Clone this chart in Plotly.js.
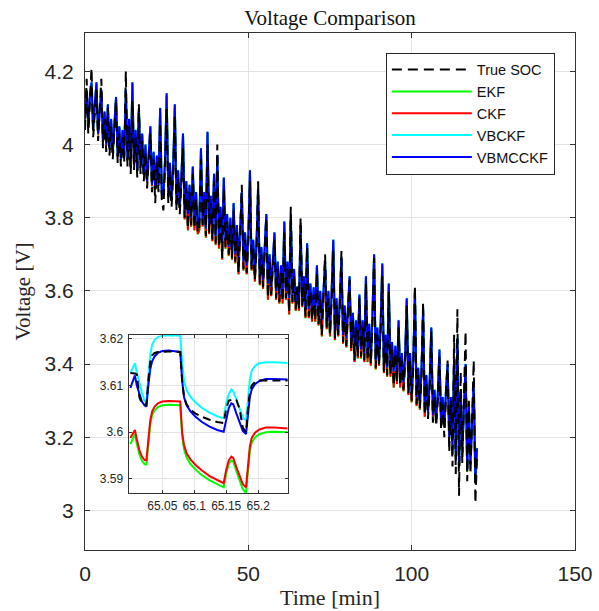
<!DOCTYPE html>
<html>
<head>
<meta charset="utf-8">
<script src="https://cdn.plot.ly/plotly-3.0.1.min.js"></script>
<style>html,body{margin:0;padding:0;background:#fff;}#chart{width:599px;height:611px;}</style>
</head>
<body>
<div id="chart"></div>
<script>
// Main plot: samples every 0.5 min from t = 0 to 120 min
const tStart = 0;
const tStep = 0.5;

const trueSOC = [
4.04,4.18,4.03,4.11,4.21,4.02,4.09,4.15,4.01,4.08,
4.18,3.99,4.07,3.98,4.10,3.97,4.05,3.96,4.03,4.12,
3.95,4.03,3.94,4.02,3.95,4.20,3.94,4.05,3.92,4.12,
3.93,4.02,3.91,4.11,3.92,4.01,3.90,3.98,3.88,3.96,
4.03,3.87,3.96,3.84,3.95,3.87,4.06,3.85,3.82,3.94,
4.10,3.84,3.93,3.83,3.92,4.08,3.82,3.91,3.81,3.89,
3.99,3.80,3.88,3.77,3.87,3.78,3.92,3.77,3.85,3.76,
3.77,3.96,3.78,3.85,3.75,4.00,3.76,3.84,3.74,3.90,
3.73,4.00,3.72,3.81,3.69,3.88,3.72,3.79,3.70,3.78,
3.69,3.82,3.68,3.76,3.65,3.75,3.89,3.66,3.74,3.65,
3.73,3.90,3.66,3.72,3.63,3.71,3.90,3.62,3.70,3.61,
3.69,3.80,3.58,3.68,3.59,3.67,3.74,3.58,3.66,3.57,
3.65,3.57,3.76,3.58,3.66,3.54,3.83,3.57,3.64,3.55,
3.612,3.55,3.80,3.56,3.62,3.53,3.72,3.53,3.60,3.52,
3.59,3.52,3.65,3.51,3.58,3.48,3.57,3.70,3.50,3.58,
3.48,3.57,3.71,3.47,3.56,3.48,3.55,3.71,3.46,3.54,
3.45,3.53,3.63,3.44,3.52,3.41,3.50,3.42,3.58,3.42,
3.50,3.41,3.62,3.41,3.49,3.40,3.51,3.69,3.39,3.48,
3.40,3.49,3.64,3.38,3.46,3.37,3.60,3.37,3.44,3.34,
3.43,3.35,3.50,3.34,3.41,3.33,3.40,3.56,3.32,3.41,
3.30,3.39,3.615,3.29,3.37,3.28,3.36,3.57,3.26,3.35,
3.25,3.33,3.49,3.24,3.31,3.23,3.30,3.42,3.22,3.29,
3.20,3.32,3.41,3.16,3.30,3.12,3.48,3.10,3.55,3.04,
3.38,3.13,3.28,3.49,3.08,3.30,3.10,3.25,3.41,3.02,
3.15];

const ekf = [
4.066,4.146,4.046,4.126,4.166,4.036,4.106,4.166,4.026,4.096,
4.146,4.006,4.086,3.996,4.106,3.986,4.066,3.976,4.046,4.126,
3.966,4.046,3.956,4.036,3.966,4.146,3.956,4.066,3.936,4.166,
3.946,4.036,3.926,4.096,3.936,4.026,3.916,3.996,3.896,3.976,
4.046,3.886,3.976,3.876,3.966,3.886,4.096,3.866,3.856,3.956,
4.136,3.856,3.946,3.846,3.936,4.106,3.836,3.926,3.826,3.906,
4.026,3.795,3.896,3.765,3.886,3.775,3.936,3.765,3.866,3.755,
3.765,3.986,3.775,3.866,3.745,4.031,3.755,3.856,3.735,3.916,
3.725,3.966,3.715,3.826,3.685,3.906,3.715,3.806,3.695,3.796,
3.685,3.836,3.675,3.776,3.645,3.766,3.866,3.655,3.756,3.645,
3.746,3.926,3.655,3.736,3.625,3.726,3.876,3.615,3.716,3.605,
3.706,3.806,3.575,3.696,3.585,3.686,3.756,3.575,3.676,3.565,
3.666,3.565,3.786,3.575,3.676,3.535,3.806,3.565,3.656,3.545,
3.5975,3.545,3.776,3.555,3.636,3.525,3.726,3.525,3.616,3.515,
3.606,3.515,3.666,3.505,3.596,3.475,3.586,3.676,3.495,3.596,
3.475,3.586,3.736,3.465,3.576,3.475,3.566,3.686,3.455,3.556,
3.445,3.546,3.636,3.435,3.536,3.405,3.516,3.415,3.586,3.415,
3.516,3.405,3.636,3.405,3.506,3.395,3.526,3.696,3.385,3.496,
3.395,3.506,3.671,3.375,3.476,3.365,3.616,3.365,3.456,3.335,
3.446,3.345,3.516,3.335,3.426,3.325,3.416,3.576,3.315,3.426,
3.295,3.406,3.596,3.285,3.386,3.275,3.376,3.546,3.255,3.366,
3.266,3.346,3.496,3.256,3.326,3.246,3.316,3.436,3.236,3.306,
3.226,3.326,3.396,3.196,3.306,3.166,3.416,3.146,3.466,3.116,
3.326,3.156,3.276,3.396,3.106,3.286,3.126,3.236,3.346,3.076,
3.166];

const ckf = [
4.067,4.147,4.047,4.127,4.167,4.037,4.107,4.167,4.027,4.097,
4.147,4.007,4.087,3.997,4.107,3.987,4.067,3.977,4.047,4.127,
3.967,4.047,3.957,4.037,3.967,4.147,3.957,4.067,3.937,4.167,
3.947,4.037,3.927,4.097,3.937,4.027,3.917,3.997,3.897,3.977,
4.047,3.887,3.977,3.877,3.967,3.887,4.097,3.867,3.857,3.957,
4.137,3.857,3.947,3.847,3.937,4.107,3.837,3.927,3.827,3.907,
4.027,3.796,3.897,3.766,3.887,3.776,3.937,3.766,3.867,3.756,
3.766,3.987,3.776,3.867,3.746,4.032,3.756,3.857,3.736,3.917,
3.726,3.967,3.716,3.827,3.686,3.907,3.716,3.807,3.696,3.797,
3.686,3.837,3.676,3.777,3.646,3.767,3.867,3.656,3.757,3.646,
3.747,3.927,3.656,3.737,3.626,3.727,3.877,3.616,3.717,3.606,
3.707,3.807,3.576,3.697,3.586,3.687,3.757,3.576,3.677,3.566,
3.667,3.566,3.787,3.576,3.677,3.536,3.807,3.566,3.657,3.546,
3.599,3.546,3.777,3.556,3.637,3.526,3.727,3.526,3.617,3.516,
3.607,3.516,3.667,3.506,3.597,3.476,3.587,3.677,3.496,3.597,
3.476,3.587,3.737,3.466,3.577,3.476,3.567,3.687,3.456,3.557,
3.446,3.547,3.637,3.436,3.537,3.406,3.517,3.416,3.587,3.416,
3.517,3.406,3.637,3.406,3.507,3.396,3.527,3.697,3.386,3.497,
3.396,3.507,3.672,3.376,3.477,3.366,3.617,3.366,3.457,3.336,
3.447,3.346,3.517,3.336,3.427,3.326,3.417,3.577,3.316,3.427,
3.296,3.407,3.597,3.286,3.387,3.276,3.377,3.547,3.256,3.367,
3.267,3.347,3.497,3.257,3.327,3.247,3.317,3.437,3.237,3.307,
3.227,3.327,3.397,3.197,3.307,3.167,3.417,3.147,3.467,3.117,
3.327,3.157,3.277,3.397,3.107,3.287,3.127,3.237,3.347,3.077,
3.167];

const vbckf = [
4.071,4.151,4.051,4.131,4.171,4.041,4.111,4.171,4.031,4.101,
4.151,4.011,4.091,4.001,4.111,3.991,4.071,3.981,4.051,4.131,
3.971,4.051,3.961,4.041,3.971,4.151,3.961,4.071,3.941,4.171,
3.951,4.041,3.931,4.101,3.941,4.031,3.921,4.001,3.901,3.981,
4.051,3.891,3.981,3.881,3.971,3.891,4.101,3.871,3.861,3.961,
4.141,3.861,3.951,3.851,3.941,4.111,3.841,3.931,3.831,3.911,
4.031,3.821,3.901,3.811,3.891,3.801,3.941,3.791,3.871,3.781,
3.791,3.991,3.791,3.871,3.771,4.036,3.781,3.861,3.761,3.921,
3.751,3.971,3.741,3.831,3.731,3.911,3.741,3.811,3.721,3.801,
3.711,3.841,3.701,3.781,3.691,3.771,3.871,3.681,3.761,3.671,
3.751,3.931,3.671,3.741,3.651,3.731,3.881,3.641,3.721,3.631,
3.711,3.811,3.621,3.701,3.611,3.691,3.761,3.601,3.681,3.591,
3.671,3.591,3.791,3.601,3.681,3.581,3.811,3.591,3.661,3.571,
3.6127,3.571,3.781,3.571,3.641,3.551,3.731,3.551,3.621,3.541,
3.611,3.541,3.671,3.531,3.601,3.521,3.591,3.681,3.521,3.601,
3.501,3.591,3.741,3.491,3.581,3.491,3.571,3.691,3.481,3.561,
3.471,3.551,3.641,3.461,3.541,3.451,3.521,3.441,3.591,3.441,
3.521,3.431,3.641,3.431,3.511,3.421,3.531,3.701,3.411,3.501,
3.411,3.511,3.676,3.401,3.481,3.391,3.621,3.391,3.461,3.381,
3.451,3.371,3.521,3.361,3.431,3.351,3.421,3.581,3.341,3.431,
3.321,3.411,3.601,3.311,3.391,3.301,3.381,3.551,3.281,3.371,
3.271,3.351,3.501,3.261,3.331,3.251,3.321,3.441,3.241,3.311,
3.231,3.331,3.401,3.201,3.311,3.171,3.421,3.151,3.471,3.121,
3.331,3.161,3.281,3.401,3.111,3.291,3.131,3.241,3.351,3.081,
3.171];

const vbmcckf = [
4.07,4.15,4.05,4.13,4.17,4.04,4.11,4.17,4.03,4.10,
4.15,4.01,4.09,4.00,4.11,3.99,4.07,3.98,4.05,4.13,
3.97,4.05,3.96,4.04,3.97,4.15,3.96,4.07,3.94,4.17,
3.95,4.04,3.93,4.10,3.94,4.03,3.92,4.00,3.90,3.98,
4.05,3.89,3.98,3.88,3.97,3.89,4.10,3.87,3.86,3.96,
4.14,3.86,3.95,3.85,3.94,4.11,3.84,3.93,3.83,3.91,
4.03,3.82,3.90,3.81,3.89,3.80,3.94,3.79,3.87,3.78,
3.79,3.99,3.79,3.87,3.77,4.035,3.78,3.86,3.76,3.92,
3.75,3.97,3.74,3.83,3.73,3.91,3.74,3.81,3.72,3.80,
3.71,3.84,3.70,3.78,3.69,3.77,3.87,3.68,3.76,3.67,
3.75,3.93,3.67,3.74,3.65,3.73,3.88,3.64,3.72,3.63,
3.71,3.81,3.62,3.70,3.61,3.69,3.76,3.60,3.68,3.59,
3.67,3.59,3.79,3.60,3.68,3.58,3.81,3.59,3.66,3.57,
3.611,3.57,3.78,3.57,3.64,3.55,3.73,3.55,3.62,3.54,
3.61,3.54,3.67,3.53,3.60,3.52,3.59,3.68,3.52,3.60,
3.50,3.59,3.74,3.49,3.58,3.49,3.57,3.69,3.48,3.56,
3.47,3.55,3.64,3.46,3.54,3.45,3.52,3.44,3.59,3.44,
3.52,3.43,3.64,3.43,3.51,3.42,3.53,3.70,3.41,3.50,
3.41,3.51,3.675,3.40,3.48,3.39,3.62,3.39,3.46,3.38,
3.45,3.37,3.52,3.36,3.43,3.35,3.42,3.58,3.34,3.43,
3.32,3.41,3.60,3.31,3.39,3.30,3.38,3.55,3.28,3.37,
3.27,3.35,3.50,3.26,3.33,3.25,3.32,3.44,3.24,3.31,
3.23,3.33,3.40,3.20,3.31,3.17,3.42,3.15,3.47,3.12,
3.33,3.16,3.28,3.40,3.11,3.29,3.13,3.24,3.35,3.08,
3.17];

// Inset (zoom on t = 65.00 .. 65.25 min)
const tInset = [65.000,65.004,65.007,65.010,65.014,65.018,65.022,65.025,65.028,65.031,
65.034,65.038,65.043,65.050,65.060,65.070,65.078,65.081,65.084,65.088,
65.094,65.102,65.112,65.124,65.136,65.146,65.150,65.154,65.158,65.161,
65.166,65.171,65.176,65.181,65.184,65.187,65.190,65.195,65.202,65.212,
65.225,65.240,65.250];

const insetTrue = [3.6127,3.6127,3.6126,3.6124,3.6075,3.6062,3.6059,3.6058,3.6110,3.6150,
3.6165,3.6170,3.6172,3.6173,3.6173,3.6173,3.6172,3.6110,3.6075,3.6060,
3.6048,3.6040,3.6033,3.6027,3.6022,3.6020,3.6050,3.6068,3.6070,3.6070,
3.6069,3.6050,3.6010,3.6000,3.6050,3.6085,3.6100,3.6108,3.6111,3.6111,
3.6111,3.6111,3.6111];

const insetEKF = [3.5975,3.5988,3.5996,3.5975,3.5953,3.5939,3.5932,3.5931,3.5982,3.6017,
3.6037,3.6047,3.6054,3.6058,3.6059,3.6059,3.6058,3.5992,3.5963,3.5946,
3.5932,3.5920,3.5908,3.5897,3.5888,3.5882,3.5912,3.5932,3.5940,3.5937,
3.5916,3.5895,3.5878,3.5870,3.5925,3.5960,3.5978,3.5989,3.5996,3.6000,
3.6001,3.6000,3.6000];

const insetCKF = [3.5988,3.5998,3.6005,3.5985,3.5962,3.5948,3.5941,3.5940,3.5990,3.6025,
3.6045,3.6055,3.6062,3.6066,3.6067,3.6067,3.6066,3.6000,3.5972,3.5955,
3.5942,3.5930,3.5918,3.5906,3.5897,3.5891,3.5920,3.5940,3.5948,3.5945,
3.5925,3.5905,3.5889,3.5882,3.5935,3.5970,3.5988,3.5999,3.6006,3.6010,
3.6010,3.6009,3.6008];

const insetVBCKF = [3.6127,3.6138,3.6148,3.6128,3.6105,3.6085,3.6068,3.6063,3.6120,3.6165,
3.6188,3.6198,3.6204,3.6207,3.6208,3.6208,3.6207,3.6150,3.6110,3.6090,
3.6076,3.6064,3.6052,3.6042,3.6034,3.6030,3.6062,3.6082,3.6092,3.6088,
3.6068,3.6048,3.6032,3.6025,3.6075,3.6112,3.6132,3.6142,3.6148,3.6150,
3.6150,3.6149,3.6148];

const insetVBMCCKF = [3.6095,3.6110,3.6122,3.6100,3.6080,3.6066,3.6058,3.6055,3.6100,3.6135,
3.6152,3.6163,3.6170,3.6174,3.6175,3.6174,3.6172,3.6110,3.6075,3.6058,
3.6045,3.6033,3.6022,3.6012,3.6005,3.6001,3.6030,3.6052,3.6062,3.6060,
3.6040,3.6020,3.6003,3.5996,3.6040,3.6075,3.6092,3.6103,3.6110,3.6114,
3.6114,3.6113,3.6113];

const seriesNames = ['True SOC','EKF','CKF','VBCKF','VBMCCKF'];
const xTicks = [0,50,100,150];
const insetXTicks = [65.05,65.1,65.15,65.2];
const insetYTicks = [3.59,3.6,3.61,3.62];

const colors = {'True SOC':'#000000','EKF':'#00ff00','CKF':'#ff0000','VBCKF':'#00ffff','VBMCCKF':'#0000ff'};
const mainData = {'True SOC':trueSOC,'EKF':ekf,'CKF':ckf,'VBCKF':vbckf,'VBMCCKF':vbmcckf};
const insetData = {'True SOC':insetTrue,'EKF':insetEKF,'CKF':insetCKF,'VBCKF':insetVBCKF,'VBMCCKF':insetVBMCCKF};
const drawOrder = ['EKF','CKF','VBCKF','VBMCCKF','True SOC'];

const traces = [];
drawOrder.forEach(name => {
  const isTrue = name === 'True SOC';
  traces.push({
    type:'scatter', mode:'lines', name:name,
    x0:tStart, dx:tStep, y:mainData[name],
    xaxis:'x', yaxis:'y',
    line:{color:colors[name], width:2, dash:isTrue?'10px,6px':'solid'},
    legendrank: seriesNames.indexOf(name)+1,
    hoverinfo:'skip'
  });
});
drawOrder.forEach(name => {
  const isTrue = name === 'True SOC';
  traces.push({
    type:'scatter', mode:'lines', name:name,
    x:tInset, y:insetData[name],
    xaxis:'x2', yaxis:'y2', showlegend:false,
    line:{color:colors[name], width:2, dash:isTrue?'8px,5px':'solid'},
    hoverinfo:'skip', cliponaxis:true
  });
});

const axisCommon = {
  showline:true, linecolor:'#333333', linewidth:1, mirror:'ticks',
  ticks:'inside', ticklen:5, tickcolor:'#333333',
  showgrid:true, gridcolor:'#e3e3e3', gridwidth:1, zeroline:false
};

const serif = '"Liberation Serif", "Times New Roman", serif';

const layout = {
  width:599, height:611,
  margin:{l:85, r:24, t:33, b:61},
  paper_bgcolor:'#ffffff', plot_bgcolor:'#ffffff',
  font:{family:'"Liberation Sans", Arial, sans-serif', color:'#262626'},
  title:{text:'Voltage Comparison', font:{family:serif, size:21, color:'#111111'},
         x:0.5, xref:'paper', xanchor:'center', y:1-18/611, yref:'container', yanchor:'middle'},
  xaxis:Object.assign({}, axisCommon, {
    domain:[0,1], range:[0,150], tickvals:xTicks,
    tickfont:{size:21}, ticklabelstandoff:5,
    title:{text:'Time [min]', font:{family:serif, size:22, color:'#262626'}, standoff:5}
  }),
  yaxis:Object.assign({}, axisCommon, {
    domain:[0,1], range:[2.892,4.305], tick0:3, dtick:0.2,
    tickfont:{size:21}, ticklabelstandoff:6,
    title:{text:'Voltage [V]', font:{family:serif, size:21, color:'#262626'}, standoff:8}
  }),
  xaxis2:Object.assign({}, axisCommon, {
    domain:[0.0888,0.4133], anchor:'y2', range:[64.997,65.246], tickvals:insetXTicks,
    ticktext:['65.05','65.1','65.15','65.2'], tickfont:{size:12}, ticklen:3, ticklabelstandoff:2
  }),
  yaxis2:Object.assign({}, axisCommon, {
    domain:[0.1103,0.4164], anchor:'x2', range:[3.587,3.6209], tickvals:insetYTicks,
    ticktext:['3.59','3.6','3.61','3.62'], tickfont:{size:12}, ticklen:3, ticklabelstandoff:2
  }),
  legend:{
    x:0.614, y:0.962, xanchor:'left', yanchor:'top',
    bgcolor:'#ffffff', bordercolor:'#262626', borderwidth:1,
    font:{size:14.5, color:'#111111'}, itemwidth:80, tracegroupgap:0
  },
  showlegend:true
};

Plotly.newPlot('chart', traces, layout, {staticPlot:true, displayModeBar:false});
</script>
</body>
</html>
